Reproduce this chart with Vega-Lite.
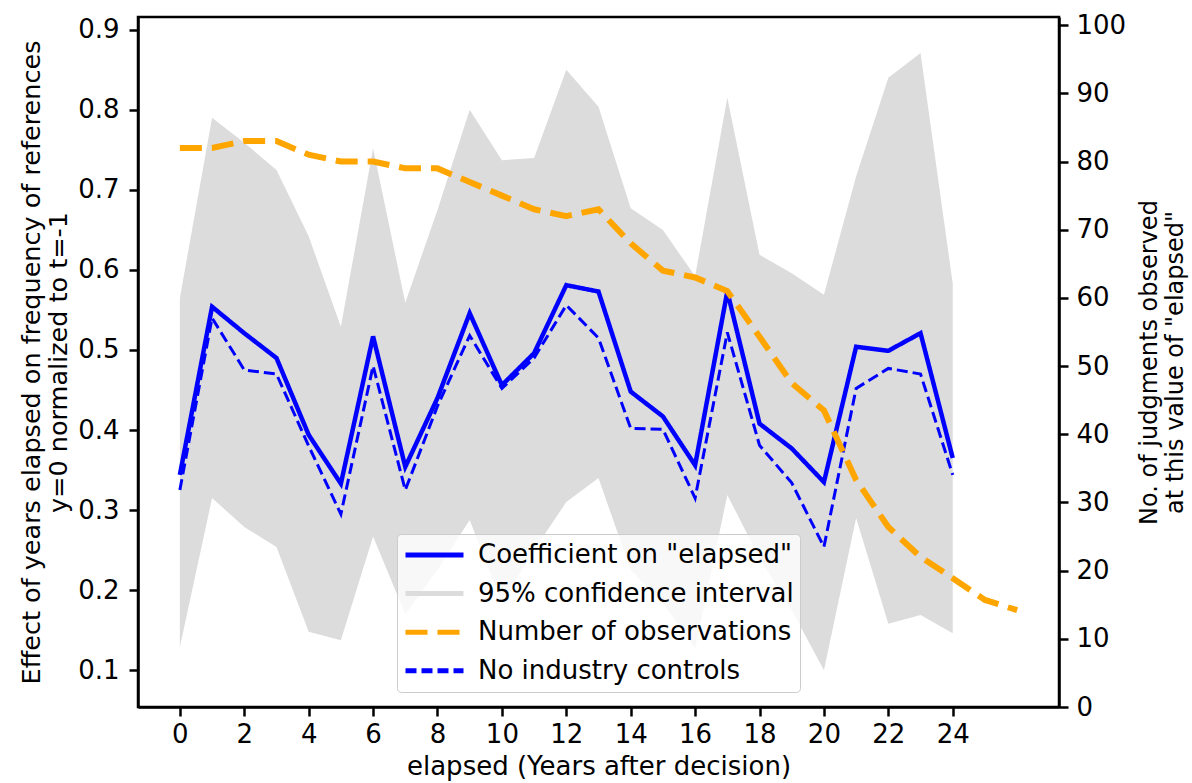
{
  "$schema": "https://vega.github.io/schema/vega-lite/v6.json",
  "autosize": {"type": "none"},
  "width": 921,
  "height": 690,
  "padding": {"left": 138, "top": 17, "right": 133, "bottom": 76},
  "background": "white",
  "config": {
    "view": {"stroke": "black", "strokeWidth": 2.5},
    "font": "DejaVu Sans",
    "axis": {
      "grid": false,
      "domainColor": "black",
      "domainWidth": 2.5,
      "tickColor": "black",
      "tickWidth": 2.5,
      "tickSize": 9,
      "labelFont": "DejaVu Sans",
      "labelFontSize": 26,
      "labelColor": "black",
      "titleFont": "DejaVu Sans",
      "titleFontSize": 26,
      "titleFontWeight": "normal",
      "titleColor": "black"
    },
    "legend": {
      "labelFont": "DejaVu Sans",
      "labelFontSize": 26,
      "labelColor": "black"
    }
  },
  "datasets": {
    "series": [
      {"t": 0, "coef": 0.344, "noind": 0.325, "lo": 0.129, "hi": 0.565, "n": 82},
      {"t": 1, "coef": 0.554, "noind": 0.54, "lo": 0.315, "hi": 0.79, "n": 82},
      {"t": 2, "coef": 0.521, "noind": 0.475, "lo": 0.279, "hi": 0.759, "n": 83},
      {"t": 3, "coef": 0.49, "noind": 0.47, "lo": 0.254, "hi": 0.725, "n": 83},
      {"t": 4, "coef": 0.394, "noind": 0.38, "lo": 0.148, "hi": 0.642, "n": 81},
      {"t": 5, "coef": 0.333, "noind": 0.295, "lo": 0.1375, "hi": 0.529, "n": 80},
      {"t": 6, "coef": 0.517, "noind": 0.48, "lo": 0.267, "hi": 0.752, "n": 80},
      {"t": 7, "coef": 0.354, "noind": 0.325, "lo": 0.17, "hi": 0.559, "n": 79},
      {"t": 8, "coef": 0.44, "noind": 0.43, "lo": 0.225, "hi": 0.675, "n": 79},
      {"t": 9, "coef": 0.546, "noind": 0.518, "lo": 0.2875, "hi": 0.8, "n": 77},
      {"t": 10, "coef": 0.456, "noind": 0.452, "lo": 0.184, "hi": 0.737, "n": 75},
      {"t": 11, "coef": 0.496, "noind": 0.49, "lo": 0.25, "hi": 0.74, "n": 73},
      {"t": 12, "coef": 0.581, "noind": 0.556, "lo": 0.31, "hi": 0.85, "n": 72},
      {"t": 13, "coef": 0.573, "noind": 0.515, "lo": 0.34, "hi": 0.804, "n": 73},
      {"t": 14, "coef": 0.448, "noind": 0.402, "lo": 0.225, "hi": 0.677, "n": 68},
      {"t": 15, "coef": 0.417, "noind": 0.401, "lo": 0.184, "hi": 0.65, "n": 64},
      {"t": 16, "coef": 0.356, "noind": 0.315, "lo": 0.127, "hi": 0.592, "n": 63},
      {"t": 17, "coef": 0.573, "noind": 0.522, "lo": 0.319, "hi": 0.815, "n": 61},
      {"t": 18, "coef": 0.408, "noind": 0.381, "lo": 0.24, "hi": 0.619, "n": 54.3},
      {"t": 19, "coef": 0.377, "noind": 0.334, "lo": 0.175, "hi": 0.596, "n": 47.5},
      {"t": 20, "coef": 0.335, "noind": 0.254, "lo": 0.1, "hi": 0.569, "n": 43.5},
      {"t": 21, "coef": 0.504, "noind": 0.452, "lo": 0.29, "hi": 0.717, "n": 33.3},
      {"t": 22, "coef": 0.499, "noind": 0.477, "lo": 0.158, "hi": 0.84, "n": 26.4},
      {"t": 23, "coef": 0.521, "noind": 0.47, "lo": 0.169, "hi": 0.871, "n": 22},
      {"t": 24, "coef": 0.365, "noind": 0.344, "lo": 0.146, "hi": 0.583, "n": 18.9},
      {"t": 25, "coef": null, "noind": null, "lo": null, "hi": null, "n": 15.7},
      {"t": 26, "coef": null, "noind": null, "lo": null, "hi": null, "n": 14.2}
    ]
  },
  "data": {"name": "series"},
  "encoding": {
    "x": {
      "field": "t",
      "type": "quantitative",
      "scale": {"domain": [-1.3, 27.3], "nice": false, "zero": false},
      "axis": {
        "values": [0, 2, 4, 6, 8, 10, 12, 14, 16, 18, 20, 22, 24],
        "title": "elapsed (Years after decision)",
        "labelPadding": 5,
        "titlePadding": 6
      }
    }
  },
  "layer": [
    {
      "layer": [
        {
          "mark": {"type": "area", "opacity": 1},
          "encoding": {
            "y": {
              "field": "lo",
              "type": "quantitative",
              "scale": {"domain": [0.054, 0.916], "nice": false, "zero": false},
              "axis": {
                "values": [0.1, 0.2, 0.3, 0.4, 0.5, 0.6, 0.7, 0.8, 0.9],
                "format": ".1f",
                "title": ["Effect of years elapsed on frequency of references", "y=0 normalized to t=-1"],
                "titleAngle": 270,
                "titleFontSize": 25.5,
                "labelPadding": 10,
                "titlePadding": 6
              }
            },
            "y2": {"field": "hi"},
            "color": {
              "datum": "95% confidence interval",
              "type": "nominal",
              "scale": {
                "domain": ["Coefficient on \"elapsed\"", "95% confidence interval", "Number of observations", "No industry controls"],
                "range": ["#0000ff", "#dcdcdc", "#ffa500", "#0000ff"]
              },
              "legend": {
                "title": null,
                "orient": "none",
                "legendX": 259,
                "legendY": 517,
                "symbolType": "stroke",
                "symbolSize": 3364,
                "symbolStrokeWidth": 5,
                "clipHeight": 30,
                "rowPadding": 8.6,
                "labelOffset": 12,
                "padding": 6,
                "fillColor": "rgba(255,255,255,0.8)",
                "strokeColor": "#cccccc",
                "cornerRadius": 4,
                "labelFontSize": 26,
                "labelLimit": 400
              }
            }
          }
        },
        {
          "mark": {"type": "line", "strokeWidth": 4.5, "strokeJoin": "miter"},
          "encoding": {
            "y": {"field": "coef", "type": "quantitative"},
            "color": {"datum": "Coefficient on \"elapsed\"", "type": "nominal"},
            "strokeDash": {
              "datum": "Coefficient on \"elapsed\"",
              "type": "nominal",
              "scale": {
                "domain": ["Coefficient on \"elapsed\"", "95% confidence interval", "Number of observations", "No industry controls"],
                "range": [[1, 0], [1, 0], [22, 10], [11, 5]]
              },
              "legend": {"title": null}
            }
          }
        },
        {
          "mark": {"type": "line", "strokeWidth": 3},
          "encoding": {
            "y": {"field": "noind", "type": "quantitative"},
            "color": {"datum": "No industry controls", "type": "nominal"},
            "strokeDash": {"datum": "No industry controls", "type": "nominal"}
          }
        }
      ]
    },
    {
      "mark": {"type": "line", "strokeWidth": 6},
      "encoding": {
        "y": {
          "field": "n",
          "type": "quantitative",
          "scale": {"domain": [0, 101.2], "nice": false, "zero": false},
          "axis": {
            "orient": "right",
            "values": [0, 10, 20, 30, 40, 50, 60, 70, 80, 90, 100],
            "title": ["No. of judgments observed", "at this value of \"elapsed\""],
            "titleAngle": 270,
            "titleFontSize": 24,
            "labelPadding": 8,
            "titlePadding": 10
          }
        },
        "color": {"datum": "Number of observations", "type": "nominal"},
        "strokeDash": {"datum": "Number of observations", "type": "nominal"}
      }
    }
  ],
  "resolve": {"scale": {"y": "independent"}}
}
